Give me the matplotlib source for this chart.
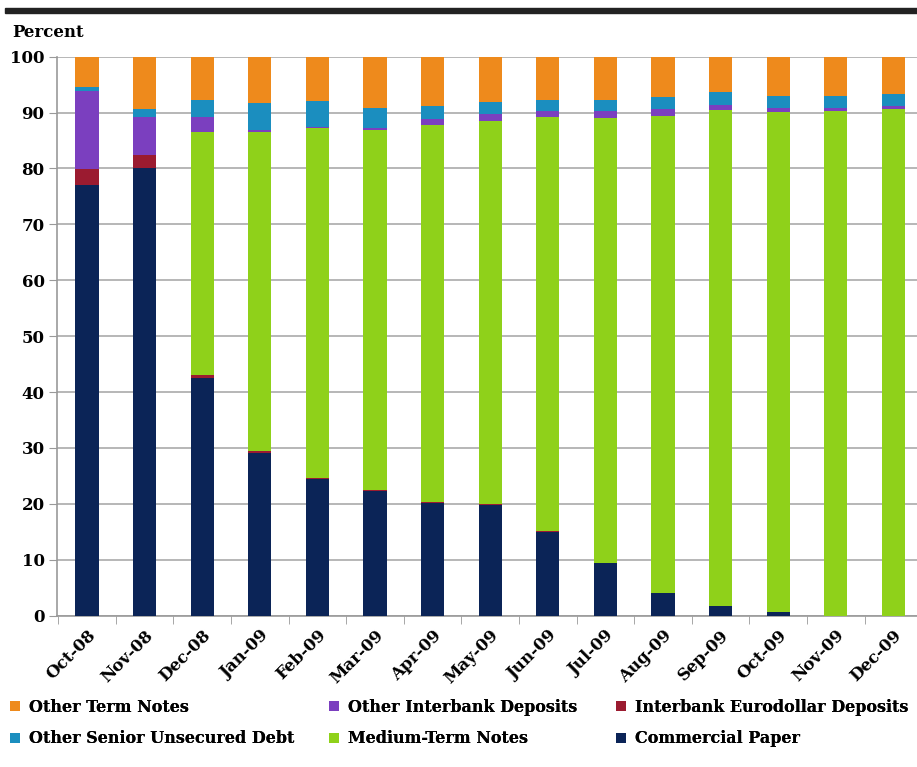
import numpy as np
import matplotlib
matplotlib.use("Agg")
import matplotlib.pyplot as plt
from matplotlib.patches import Rectangle

# data (percent of total)
months = ["Oct-08", "Nov-08", "Dec-08", "Jan-09", "Feb-09", "Mar-09", "Apr-09", "May-09",
          "Jun-09", "Jul-09", "Aug-09", "Sep-09", "Oct-09", "Nov-09", "Dec-09"]
commercial_paper = [77.0, 80.1, 42.5, 29.1, 24.5, 22.3, 20.2, 19.8, 14.9, 9.4, 4.1, 1.8, 0.6, 0.0, 0.0]
eurodollar = [2.9, 2.3, 0.6, 0.3, 0.1, 0.1, 0.2, 0.2, 0.2, 0.0, 0.0, 0.0, 0.0, 0.0, 0.0]
medium_term = [0.0, 0.0, 43.4, 57.2, 62.6, 64.4, 67.3, 68.5, 74.1, 79.6, 85.3, 88.7, 89.5, 90.2, 90.6]
other_interbank = [14.0, 6.8, 2.7, 0.3, 0.3, 0.5, 1.1, 1.2, 1.1, 1.2, 1.2, 0.9, 0.8, 0.6, 0.5]
other_senior = [0.6, 1.5, 3.1, 4.8, 4.6, 3.5, 2.3, 2.2, 2.0, 2.1, 2.2, 2.2, 2.1, 2.2, 2.2]
other_term = [5.5, 9.3, 7.7, 8.3, 7.9, 9.2, 8.9, 8.1, 7.7, 7.7, 7.2, 6.4, 7.0, 7.0, 6.7]

series = [
    ("Commercial Paper", commercial_paper, "#0b2457"),
    ("Interbank Eurodollar Deposits", eurodollar, "#9b1b30"),
    ("Medium-Term Notes", medium_term, "#8fd11a"),
    ("Other Interbank Deposits", other_interbank, "#7b3fbf"),
    ("Other Senior Unsecured Debt", other_senior, "#1b8ebf"),
    ("Other Term Notes", other_term, "#ee8a1c"),
]

plt.rcParams['font.family'] = ['DejaVu Serif']
plt.rcParams['font.weight'] = 'bold'

fig = plt.figure(figsize=(9.17, 7.67), dpi=100)
ax = fig.add_axes([0.0622, 0.1973, 0.9378, 0.7288])

x = np.arange(len(months))
bottom = np.zeros(len(months))
handles = {}
for name, vals, col in series:
    vals = np.array(vals)
    b = ax.bar(x, vals, 0.4, bottom=bottom, color=col, label=name, zorder=3)
    handles[name] = b
    bottom += vals

ax.set_ylim(0, 100)
ax.set_xlim(-0.52, 14.41)
ax.set_yticks(np.arange(0, 101, 10))
ax.tick_params(axis='y', labelsize=12, length=6, color='#999999', pad=3)
ax.yaxis.grid(True, color='#aaaaaa', linewidth=1.2, zorder=0)
ax.set_xticks(x)
ax.set_xticklabels(months, rotation=45, ha='right', rotation_mode='anchor', fontsize=12)
ax.tick_params(axis='x', length=0, pad=8)
ax.set_xticks(np.arange(-0.5, 14.5, 1), minor=True)
ax.tick_params(axis='x', which='minor', length=6, color='#999999')
for s in ['top', 'right']:
    ax.spines[s].set_visible(False)
for s in ['left', 'bottom']:
    ax.spines[s].set_color('#999999')
    ax.spines[s].set_linewidth(1.2)

fig.text(0.013, 0.957, "Percent", fontsize=12, fontweight='bold', va='center')
fig.patches.append(Rectangle((0.005, 0.983), 0.995, 0.007, transform=fig.transFigure,
                             color='#222222', figure=fig))

# legend: three columns placed separately
columns = [
    (0.004, ["Other Term Notes", "Other Senior Unsecured Debt"]),
    (0.352, ["Other Interbank Deposits", "Medium-Term Notes"]),
    (0.665, ["Interbank Eurodollar Deposits", "Commercial Paper"]),
]
for xpos, names in columns:
    leg = fig.legend([handles[n] for n in names], names, loc='upper left',
                     bbox_to_anchor=(xpos, 0.097), frameon=False, fontsize=11.5,
                     handlelength=0.6, handleheight=0.6, handletextpad=0.6,
                     labelspacing=0.9, borderaxespad=0)
    fig.add_artist(leg)

fig.savefig("out.png", dpi=100)
